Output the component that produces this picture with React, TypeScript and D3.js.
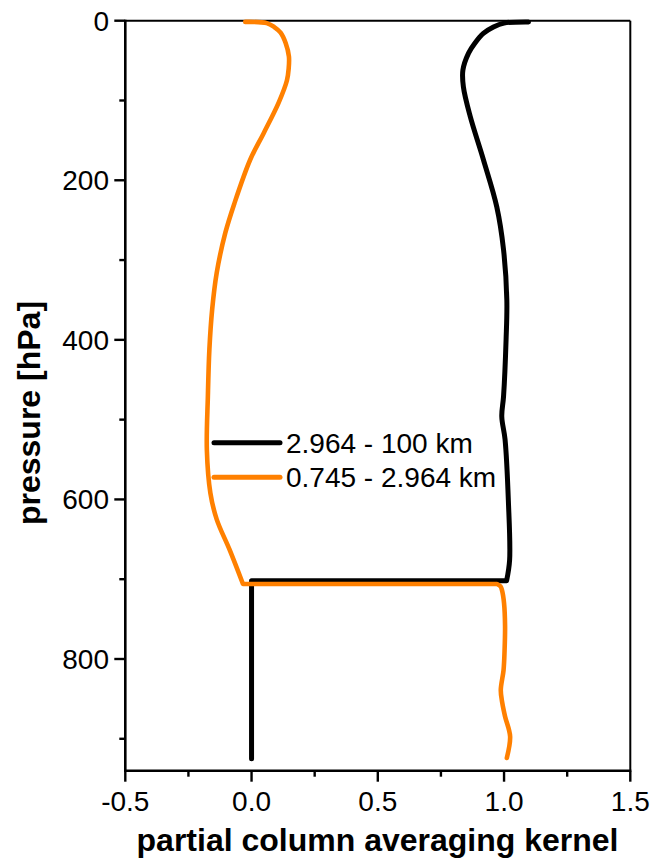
import React from "react";
import * as d3 from "d3";

const WIDTH = 655;
const HEIGHT = 860;

const xTicks = [-0.5, 0.0, 0.5, 1.0, 1.5];
const xMinorTicks = [-0.25, 0.25, 0.75, 1.25];
const yTicks = [0, 200, 400, 600, 800];
const yMinorTicks = [100, 300, 500, 700, 900];

// Partial column averaging kernel, 2.964 - 100 km layer
const upperPressure = [1.5, 3, 8, 16, 28, 41, 62, 83, 120, 174, 233, 287, 350, 400, 471, 496, 525, 601, 676, 702, 702, 925];
const upperKernel = [1.097, 1.0, 0.958, 0.918, 0.885, 0.859, 0.837, 0.839, 0.866, 0.918, 0.971, 0.998, 1.011, 1.008, 0.998, 0.991, 1.004, 1.017, 1.022, 1.01, 0.0, 0.0];

// Partial column averaging kernel, 0.745 - 2.964 km layer
const lowerPressure = [1.5, 3, 8, 15, 28, 45, 60, 75, 103, 141, 174, 229, 266, 316, 362, 412, 471, 538, 592, 625, 663, 706, 706, 709, 714, 730, 759, 790, 814, 839, 855, 872, 897, 924];
const lowerKernel = [-0.025, 0.06, 0.09, 0.115, 0.135, 0.148, 0.147, 0.14, 0.107, 0.048, -0.005, -0.068, -0.104, -0.138, -0.156, -0.167, -0.173, -0.177, -0.163, -0.138, -0.087, -0.034, 0.972, 0.986, 0.992, 1.0, 1.004, 1.002, 0.998, 0.987, 0.993, 1.004, 1.024, 1.011];

const seriesNames = ["2.964 - 100 km", "0.745 - 2.964 km"];
const seriesColors = ["#000000", "#ff8000"];

const FONT = "'Liberation Sans', Arial, Helvetica, sans-serif";

const x = d3.scaleLinear().domain([-0.5, 1.5]).range([125.3, 630.3]);
const y = d3.scaleLinear().domain([0, 940]).range([20.7, 770.7]);

// plain hyphen for negative tick values
const fmtX = (v: number) => d3.format(".1f")(v).replace("\u2212", "-");

type Pt = [number, number];

// Smooth profile segments, with straight edges where the pressure stays constant (layer steps).
function profilePath(pressure: number[], kernel: number[]): string {
  const pts: Pt[] = pressure.map((p, i) => [x(kernel[i]), y(p)]);
  const runs: Pt[][] = [];
  let current: Pt[] = [pts[0]];
  for (let i = 1; i < pts.length; i++) {
    if (pressure[i] === pressure[i - 1]) {
      runs.push(current);
      current = [pts[i]];
    } else {
      current.push(pts[i]);
    }
  }
  runs.push(current);
  const smooth = d3.line<Pt>().curve(d3.curveCatmullRom.alpha(0.5));
  return runs
    .map((run, i) => {
      const d = run.length > 1 ? smooth(run) || "" : `M${run[0][0]},${run[0][1]}`;
      return i === 0 ? d : "L" + d.slice(1);
    })
    .join("");
}

export default function App() {
  const x0 = x.range()[0];
  const x1 = x.range()[1];
  const y0 = y.range()[0];
  const y1 = y.range()[1];

  const legendY = [442.7, 477.3];

  return (
    <svg
      width={WIDTH}
      height={HEIGHT}
      style={{ position: "absolute", left: 0, top: 0, background: "#fff" }}
      fontFamily={FONT}
    >
      <rect x={0} y={0} width={WIDTH} height={HEIGHT} fill="#fff" />

      {/* frame */}
      <line x1={x0} x2={x1} y1={y0} y2={y0} stroke="#000" strokeWidth={2} />
      <line x1={x1} x2={x1} y1={y0} y2={y1} stroke="#000" strokeWidth={2} />

      {/* data */}
      <path
        d={profilePath(upperPressure, upperKernel)}
        fill="none"
        stroke={seriesColors[0]}
        strokeWidth={5}
        strokeLinecap="round"
        strokeLinejoin="round"
      />
      <path
        d={profilePath(lowerPressure, lowerKernel)}
        fill="none"
        stroke={seriesColors[1]}
        strokeWidth={4.6}
        strokeLinecap="round"
        strokeLinejoin="round"
      />

      {/* left axis */}
      <line x1={x0} x2={x0} y1={y0 - 1} y2={y1 + 1.3} stroke="#000" strokeWidth={2.6} />
      {yTicks.map((t) => (
        <g key={"yt" + t}>
          <line x1={x0 - 11} x2={x0} y1={y(t)} y2={y(t)} stroke="#000" strokeWidth={2.4} />
          <text x={109} y={y(t) + 9.8} fontSize={28} textAnchor="end" fill="#000">
            {d3.format("d")(t)}
          </text>
        </g>
      ))}
      {yMinorTicks.map((t) => (
        <line key={"ym" + t} x1={x0 - 6} x2={x0} y1={y(t)} y2={y(t)} stroke="#000" strokeWidth={2.4} />
      ))}

      {/* bottom axis */}
      <line x1={x0 - 1.3} x2={x1 + 1} y1={y1} y2={y1} stroke="#000" strokeWidth={2.6} />
      {xTicks.map((t) => (
        <g key={"xt" + t}>
          <line x1={x(t)} x2={x(t)} y1={y1} y2={y1 + 11} stroke="#000" strokeWidth={2.4} />
          <text x={x(t)} y={810.7} fontSize={28} textAnchor="middle" fill="#000">
            {fmtX(t)}
          </text>
        </g>
      ))}
      {xMinorTicks.map((t) => (
        <line key={"xm" + t} x1={x(t)} x2={x(t)} y1={y1} y2={y1 + 6} stroke="#000" strokeWidth={2.4} />
      ))}

      {/* axis titles */}
      <text x={377.5} y={851} fontSize={32} fontWeight="bold" textAnchor="middle" fill="#000">
        partial column averaging kernel
      </text>
      <text
        transform={`translate(40,413) rotate(-90)`}
        fontSize={32}
        fontWeight="bold"
        textAnchor="middle"
        fill="#000"
      >
        pressure [hPa]
      </text>

      {/* legend */}
      {seriesNames.map((name, i) => (
        <g key={name}>
          <line
            x1={214}
            x2={280}
            y1={legendY[i]}
            y2={legendY[i]}
            stroke={seriesColors[i]}
            strokeWidth={5}
            strokeLinecap="round"
          />
          <text x={286} y={legendY[i] + 10} fontSize={28} fill="#000">
            {name}
          </text>
        </g>
      ))}
    </svg>
  );
}
